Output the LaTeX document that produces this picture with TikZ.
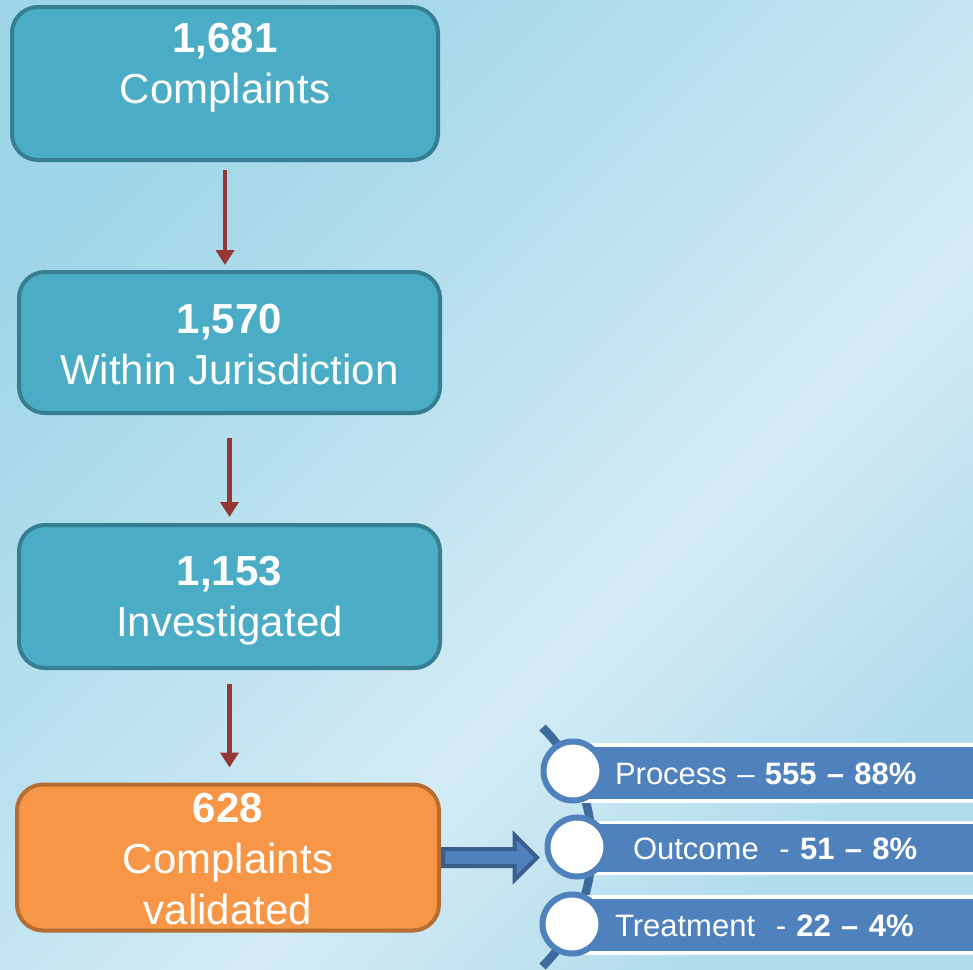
\documentclass[tikz,border=0pt]{standalone}
\usepackage{fontspec}
\setmainfont{Liberation Sans}
\usetikzlibrary{arrows.meta,shapes.arrows,positioning}
\definecolor{bgdark}{HTML}{9FD5E8}
\definecolor{bgmid}{HTML}{C3E5F1}
\definecolor{bglight}{HTML}{D3ECF5}
\definecolor{bgright}{HTML}{B1DCEC}
\definecolor{tealfill}{HTML}{4BACC6}
\definecolor{tealline}{HTML}{367F93}
\definecolor{orangefill}{HTML}{F79646}
\definecolor{orangeline}{HTML}{B66D31}
\definecolor{redarrow}{HTML}{953735}
\definecolor{bluefill}{HTML}{4F81BD}
\definecolor{blueline}{HTML}{3A5F8F}
\definecolor{arcblue}{HTML}{3D6A9F}
\pgfdeclareverticalshading{backdrop}{100bp}{color(0bp)=(bgright); color(25bp)=(bgright);
  color(41bp)=(bglight); color(50bp)=(bgmid); color(75bp)=(bgdark); color(100bp)=(bgdark)}
\newcommand{\boxfont}{\fontsize{42}{51}\selectfont}
\newcommand{\barfont}{\fontsize{31}{37}\selectfont}
\newcommand{\linestrut}{\rule[-6pt]{0pt}{44pt}}
\begin{document}
\begin{tikzpicture}
[x=1pt,y=-1pt,
  boxdecorate/.style={shape=rectangle,rounded corners=26pt,draw=tealline,fill=tealfill,line width=4pt,text=white,align=center,font=\boxfont,inner sep=0pt},%
  validdecorate/.style={boxdecorate,draw=orangeline,fill=orangefill},%
  arrowdecorate/.style={draw=redarrow,line width=4.5pt,-{Triangle[width=18pt,length=15pt]}},%
  pointerdecorate/.style={shape=single arrow,draw=blueline,fill=bluefill,line width=4pt,minimum height=94pt,inner xsep=0pt,inner ysep=6.5pt,single arrow head extend=14pt},%
  bardecorate/.style={shape=rectangle,draw=white,fill=bluefill,line width=3.5pt,anchor=west,outer sep=0pt,text=white,font=\barfont,align=left,text width=330pt,text height=22pt,text depth=0pt,inner ysep=0pt},%
  circledecorate/.style={shape=circle,draw=bluefill,fill=white,line width=6pt,minimum size=59pt,inner sep=0pt},%
  hubdecorate/.style={draw=arcblue,line width=8.5pt}]
%% background
\shade[shading=backdrop,shading angle=45] (0,0) rectangle (973,969);
\useasboundingbox (0,0) rectangle (973,969);
%% stages
\node (complaints) at (225,83.5) [boxdecorate,minimum width=426pt,minimum height=149pt] {\rule[-6pt]{0pt}{51pt}\textbf{1,681}\\\linestrut Complaints\\\linestrut~};
\node (jurisdiction) at (229.5,342.5) [boxdecorate,minimum width=421pt,minimum height=141pt] {\linestrut\textbf{1,570}\\\linestrut Within Jurisdiction};
\node (investigated) at (229.5,596.5) [boxdecorate,minimum width=421pt,minimum height=143pt] {\linestrut\textbf{1,153}\\\linestrut Investigated};
\node (validated) at (228,857.5) [validdecorate,minimum width=422pt,minimum height=141pt] {\linestrut\textbf{628}\\\linestrut Complaints\\\linestrut validated};
%% arrows between stages
\foreach \startnode/\endnode/\gapa/\gapb in {complaints/jurisdiction/8pt/5pt,
  jurisdiction/investigated/23pt/6pt, investigated/validated/14pt/15pt} {
  \draw[arrowdecorate,shorten <=\gapa,shorten >=\gapb] (\startnode.south) -- (\startnode.south |- \endnode.north);
}
\node (pointer) [pointerdecorate,right=0pt of validated] {};
%% breakdown list
\coordinate (hub) at (423,847);
\draw[hubdecorate] (hub) ++(-45:169pt) arc[start angle=-45,end angle=45,radius=169pt];
\foreach \name/\y/\h/\indent/\txt in {process/773/56pt/42pt/{Process – \textbf{555 – 88\%}},
  outcome/848/51pt/60pt/{Outcome\ \ - \textbf{51 – 8\%}},
  treatment/925/56pt/42pt/{Treatment\ \ - \textbf{22 – 4\%}}} {
  \node (\name) at (573,\y) [bardecorate,minimum height=\h,inner xsep=\indent] {\txt};
}
\foreach \name/\x/\y in {ring1/573/771, ring2/577/847, ring3/572/924} {
  \node (\name) at (\x,\y) [circledecorate] {};
}
\end{tikzpicture}
\end{document}
